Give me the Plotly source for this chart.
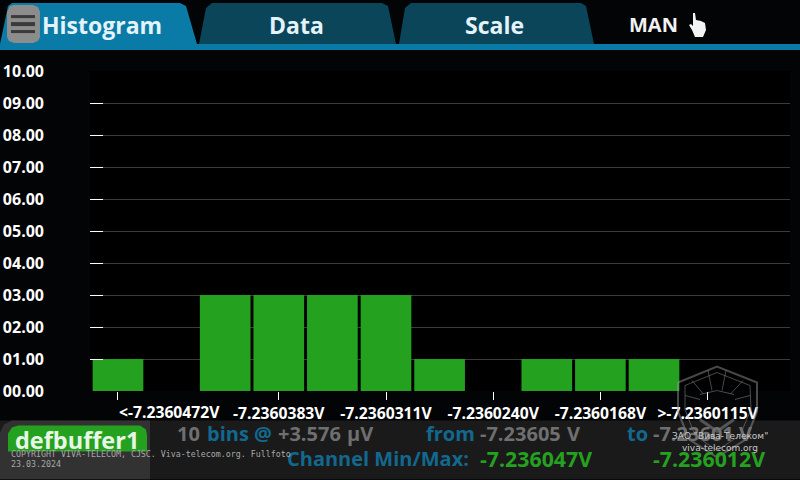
#!/usr/bin/env python3
"""Instrument histogram screen rebuilt with Plotly."""

import plotly.graph_objects as go

W, H = 800, 480
LEFT, RIGHT, TOP, BOTTOM = 90, 790, 71, 391.5

BINS = list(range(12))
COUNTS = [1, 0, 3, 3, 3, 3, 1, 0, 1, 1, 1, 0]
Y_TICKS = [0, 1, 2, 3, 4, 5, 6, 7, 8, 9, 10]
Y_LABELS = ["00.00", "01.00", "02.00", "03.00", "04.00", "05.00",
            "06.00", "07.00", "08.00", "09.00", "10.00"]
X_TICKS = [0, 3, 5, 7, 9, 11]
X_LABELS = ["", "-7.2360383V", "-7.2360311V", "-7.2360240V", "-7.2360168V", ">-7.2360115V"]
FIRST_LABEL = "<-7.2360472V"

BG = "#020406"
BAND = "#0a7ba6"
TAB = "#0b4559"
GREEN = "#25a120"
BLUE = "#12688f"
GREY = "#6f6f6f"
WATERMARK = "rgba(150,150,150,0.48)"
FONT = "Open Sans"


def px(x):
    return (x - LEFT) / (RIGHT - LEFT)


def py(y):
    return (BOTTOM - y) / (BOTTOM - TOP)


def path(points, close=True):
    parts = [f"{'M' if i == 0 else 'L'} {px(x):.5f} {py(y):.5f}" for i, (x, y) in enumerate(points)]
    return " ".join(parts) + (" Z" if close else "")


def poly(points, fill, layer="above"):
    return dict(type="path", xref="paper", yref="paper", path=path(points), fillcolor=fill,
                line=dict(color=fill, width=0), layer=layer)


def stroke(points, color, width, layer="above"):
    return dict(type="path", xref="paper", yref="paper", path=path(points, close=False),
                line=dict(color=color, width=width), layer=layer)


def rect(x0, y0, x1, y1, fill, layer="above"):
    return dict(type="rect", xref="paper", yref="paper", x0=px(x0), x1=px(x1), y0=py(y0), y1=py(y1),
                fillcolor=fill, line=dict(width=0), layer=layer)


def label(x, y, text, size, color, anchor="center", bold=True, family=FONT):
    txt = f"<b>{text}</b>" if bold else text
    return dict(xref="paper", yref="paper", x=px(x), y=py(y), text=txt, showarrow=False,
                xanchor=anchor, yanchor="middle", borderpad=0,
                font=dict(size=size, color=color, family=family))


fig = go.Figure(go.Bar(x=BINS, y=COUNTS, marker=dict(color=GREEN, line=dict(width=0)), width=0.945))

shapes = [
    # header
    rect(0, 44, 800, 50, BAND),
    poly([(0, 44), (3, 30), (8, 6), (12, 3), (180, 3), (186, 6), (197, 44)], BAND),
    poly([(199, 44), (206, 8), (212, 3), (382, 3), (388, 6), (396, 44)], TAB),
    poly([(399, 44), (405, 8), (411, 3), (581, 3), (586, 6), (594, 44)], TAB),
    # footer
    rect(0, 421, 800, 480, "#1a1a1a"),
    poly([(0, 480), (0, 433), (4, 425), (12, 421), (150, 421), (150, 480)], "#323232"),
    poly([(8, 452), (8, 434), (12, 428), (18, 426), (140, 426), (146, 430), (147, 436),
          (147, 452)], GREEN),
    # menu button
    poly([(7, 12), (10, 6), (14, 5), (33, 5), (38, 7), (40, 12), (40, 37), (38, 41), (33, 43),
          (14, 43), (9, 41), (7, 37)], "#8c8c8c"),
    rect(11, 15, 35, 18, "#3a3a3a"),
    rect(11, 22, 35, 26, "#3a3a3a"),
    rect(11, 30, 35, 33, "#3a3a3a"),
    # hand cursor
    poly([(693, 13), (695, 13), (696, 20), (701, 21), (705, 23), (706, 30), (703, 37), (695, 37),
          (692, 30), (689, 25), (691, 24), (693, 26)], "#f4f4f4"),
    # watermark shield
    stroke([(678, 383), (717, 367), (757, 383), (757, 412), (746, 440), (717, 458), (689, 440), (678, 412), (678, 383)],
           WATERMARK, 2),
    stroke([(685, 386), (717, 373), (750, 386), (751, 410), (740, 436), (717, 451), (695, 436), (685, 410), (685, 386)],
           WATERMARK, 1),
    stroke([(700, 395), (717, 391), (734, 395)], WATERMARK, 1),
    stroke([(708, 371), (712, 391)], WATERMARK, 1),
    stroke([(726, 371), (722, 391)], WATERMARK, 1),
    stroke([(692, 381), (703, 394)], WATERMARK, 1),
    stroke([(743, 381), (731, 394)], WATERMARK, 1),
    stroke([(685, 396), (700, 400)], WATERMARK, 1),
    stroke([(750, 396), (735, 400)], WATERMARK, 1),
    stroke([(700, 420), (717, 432), (734, 420)], WATERMARK, 3),
]

annotations = [
    label(102, 25, "Histogram", 23, "#e4f3fa"),
    label(296, 25, "Data", 23, "#e4f3fa"),
    label(494, 25, "Scale", 23, "#e4f3fa"),
    label(653, 24, "MAN", 20, "#f2f2f2"),
    dict(xref="x", yref="paper", x=0, y=py(413), text=f"<b>{FIRST_LABEL}</b>", showarrow=False,
         xanchor="left", yanchor="middle", borderpad=0, font=dict(size=15.7, color="#ffffff", family=FONT)),
    label(77, 441, "defbuffer1", 23.5, "#e8f6e6"),
    label(176, 434, "10", 20, GREY, "left"),
    label(206, 434, "bins @", 20, BLUE, "left"),
    label(277, 434, "+3.576", 20, GREY, "left"),
    label(346, 434, "µV", 20, GREY, "left"),
    label(425, 434, "from", 20, BLUE, "left"),
    label(479, 434, "-7.23605", 20, GREY, "left"),
    label(566, 434, "V", 20, GREY, "left"),
    label(626, 434, "to", 20, BLUE, "left"),
    label(652, 434, "-7.23601", 20, GREY, "left"),
    label(738, 434, "V", 20, GREY, "left"),
    label(286, 459, "Channel Min/Max:", 20, BLUE, "left"),
    label(479, 459, "-7.236047V", 21.3, GREEN, "left"),
    label(652, 459, "-7.236012V", 21.3, GREEN, "left"),
    label(10, 455, "COPYRIGHT VIVA-TELECOM, CJSC. Viva-telecom.org. Fullfoto", 8.3, "#a8a8a8", "left", False, "DejaVu Sans Mono"),
    label(10, 465, "23.03.2024", 8.3, "#a8a8a8", "left", False, "DejaVu Sans Mono"),
    label(719.5, 437, "ЗАО \"Вива-Телеком\"", 9, "#c8c8c8", "center", False, "DejaVu Sans"),
    label(719.5, 449, "viva-telecom.org", 9, "#c8c8c8", "center", False, "DejaVu Sans"),
]

fig.update_layout(
    width=W, height=H, autosize=False,
    margin=dict(l=LEFT, r=W - RIGHT, t=TOP, b=H - BOTTOM, pad=0),
    paper_bgcolor=BG, plot_bgcolor="#000000",
    showlegend=False, shapes=shapes, annotations=annotations,
    font=dict(family=FONT, color="#ffffff"),
)
fig.update_xaxes(
    range=[-0.522, 12.537], tickmode="array", tickvals=X_TICKS, ticktext=[f"<b>{t}</b>" if t else "" for t in X_LABELS],
    ticks="outside", ticklen=8, tickcolor="#ffffff", tickwidth=1, showgrid=False, zeroline=False,
    tickfont=dict(size=15.7, color="#ffffff", family=FONT), showline=False, automargin=False,
)
fig.update_yaxes(
    range=[0, 10], tickmode="array", tickvals=Y_TICKS, ticktext=[f"<b>{t}</b>" for t in Y_LABELS],
    ticks="inside", ticklen=13, tickcolor="#ffffff", tickwidth=1, showgrid=True, gridcolor="#3c3c3c",
    gridwidth=1, zeroline=False, showline=False, ticklabelstandoff=45, automargin=False,
    tickfont=dict(size=16, color="#ffffff", family=FONT),
)

# page default margin would push the 800x480 figure off the window
fig.write_html(
    "out.html",
    config={"displayModeBar": False},
    post_script="document.body.style.margin='0';document.body.style.background='#020406';document.documentElement.style.overflow='hidden';",
)
